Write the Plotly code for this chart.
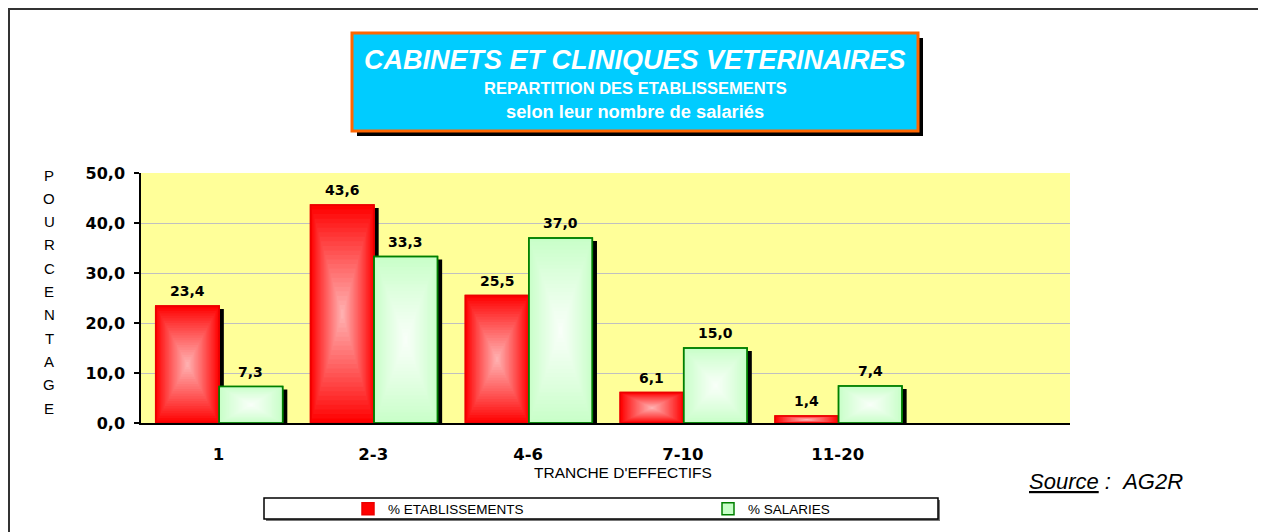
import plotly.graph_objects as go

# ---------------- data ----------------
categories = ["1", "2-3", "4-6", "7-10", "11-20"]
etablissements = [23.4, 43.6, 25.5, 6.1, 1.4]
salaries = [7.3, 33.3, 37.0, 15.0, 7.4]
series_names = ["% ETABLISSEMENTS", "% SALARIES"]
y_ticks = [0, 10, 20, 30, 40, 50]
n_slots = 6
title_main = "CABINETS ET CLINIQUES VETERINAIRES"
title_sub1 = "REPARTITION DES ETABLISSEMENTS"
title_sub2 = "selon leur nombre de salariés"
x_title = "TRANCHE D'EFFECTIFS"
y_title = "POURCENTAGE"
source_label = "Source"
source_value = "AG2R"

# ---------------- geometry helpers (reference pixels -> paper) ----------------
OFF = 8                      # page body margin
W, H = 1266 - OFF, 532 - OFF
L, R, T, B = 141, 1070, 173, 423   # plot area in reference page pixels


def px(x):
    return (x - L) / (R - L)


def py(y):
    return (B - y) / (B - T)


def cx(x):
    return (x - OFF) / W


def cy(y):
    return 1 - (y - OFF) / H


def lerp(c1, c2, t):
    return "rgb(%d,%d,%d)" % tuple(round(a + (b - a) * t) for a, b in zip(c1, c2))


def fmt(v):
    return ("%.1f" % v).replace(".", ",")


BW = 0.41
NL = 24
xs = list(range(len(categories)))
series = [
    dict(name=series_names[0], values=etablissements, off=-0.405,
         edge=(255, 0, 0), center=(255, 182, 182), line="rgb(235,0,0)"),
    dict(name=series_names[1], values=salaries, off=0.005,
         edge=(200, 255, 200), center=(250, 255, 250), line="rgb(0,128,0)"),
]

fig = go.Figure()

# shadows
for s in series:
    fig.add_bar(x=xs, y=[max(v - 0.6, 0) for v in s["values"]], base=0,
                offset=s["off"] + 0.03, width=BW,
                marker=dict(color="black", line=dict(width=0)),
                showlegend=False, hoverinfo="skip")

# gradient layers
for s in series:
    vals = s["values"]
    for k in range(NL):
        t = k / NL
        f = 1 - t
        fig.add_bar(
            x=xs, y=[v * f for v in vals], base=[v * t / 2 for v in vals],
            offset=s["off"] + BW * t / 2, width=BW * f,
            marker=dict(color=lerp(s["edge"], s["center"], t ** 0.9),
                        line=dict(width=1.5 if k == 0 else 0, color=s["line"])),
            name=s["name"], showlegend=(k == 0), legendgroup=s["name"],
            hoverinfo="skip")
    # outline
    fig.add_bar(x=xs, y=vals, base=0, offset=s["off"], width=BW,
                marker=dict(color="rgba(0,0,0,0)", line=dict(width=1.5, color=s["line"])),
                showlegend=False, legendgroup=s["name"], hoverinfo="skip")

annotations = []
# value labels
for s in series:
    for i, v in enumerate(s["values"]):
        annotations.append(dict(
            x=i + s["off"] + BW / 2, y=v, xref="x", yref="y", text=fmt(v),
            showarrow=False, yshift=15, xanchor="center", yanchor="middle", borderpad=0,
            font=dict(family="DejaVu Sans", size=14, color="black", weight="bold")))


def note(x, y, text, font, xanchor="center"):
    return dict(x=px(x), y=py(y), xref="paper", yref="paper", text=text,
                showarrow=False, xanchor=xanchor, yanchor="middle", borderpad=0,
                font=font)


tcx = (352 + 918) / 2
annotations += [
    note(tcx, 60, title_main,
         dict(family="Liberation Sans", size=27, color="white", weight="bold", style="italic")),
    note(tcx, 88, title_sub1,
         dict(family="Liberation Sans", size=16.5, color="white", weight="bold")),
    note(tcx, 111, title_sub2,
         dict(family="Liberation Sans", size=18.3, color="white", weight="bold")),
    note(623, 472, x_title, dict(family="Liberation Sans", size=15.5, color="black")),
    note(1028, 481, "<u>%s</u>\u00a0:\u00a0\u00a0%s" % (source_label, source_value),
         dict(family="Liberation Sans", size=22, color="black", style="italic"),
         xanchor="left"),
]
# vertical y title letters
n = len(y_title)
for i, ch in enumerate(y_title):
    yy = 175 + (408 - 175) * i / (n - 1)
    annotations.append(note(49, yy, ch, dict(family="Liberation Sans", size=15, color="black")))


def rect(x0, y0, x1, y1, **kw):
    d = dict(type="rect", xref="paper", yref="paper",
             x0=px(x0), x1=px(x1), y0=py(y0), y1=py(y1))
    d.update(kw)
    return d


shapes = [
    # outer frame
    rect(9, 9, 1261, 545, line=dict(color="#333333", width=2), fillcolor="rgba(0,0,0,0)"),
    # title box shadow + box
    rect(357, 38, 923, 136, line=dict(width=0), fillcolor="black"),
    rect(352, 33, 918, 131, line=dict(color="#FF6600", width=3), fillcolor="#00CCFF"),
    # legend box shadow + box
    rect(266, 500, 940, 521, line=dict(width=0), fillcolor="#777777"),
    rect(264, 498, 938, 519, line=dict(color="black", width=1.5), fillcolor="white"),
]

fig.update_layout(
    width=W, height=H, autosize=False,
    margin=dict(l=L - OFF, r=W - (R - OFF), t=T - OFF, b=H - (B - OFF), pad=0),
    plot_bgcolor="#FFFF99", paper_bgcolor="white",
    barmode="overlay", separators=",.",
    xaxis=dict(range=[-0.5, n_slots - 0.5], tickvals=xs, ticktext=categories,
               ticks="", showline=True, linecolor="black", linewidth=1.5,
               showgrid=False, zeroline=False, ticklabelstandoff=15,
               tickfont=dict(family="DejaVu Sans", size=16.5, color="black", weight="bold")),
    xaxis2=dict(overlaying="x", anchor="y", side="bottom", range=[-0.5, n_slots - 0.5],
                tickvals=[i - 0.5 for i in range(n_slots + 1)],
                ticktext=[""] * (n_slots + 1), ticks="outside", ticklen=6,
                tickcolor="black", tickwidth=1.5, showgrid=False, showline=False,
                zeroline=False),
    yaxis=dict(range=[0, 50], tickvals=y_ticks, tickformat=".1f", ticks="outside",
               ticklen=5, tickcolor="black", tickwidth=1.5, showline=True,
               linecolor="black", linewidth=1.5, gridcolor="#C0C0C0", gridwidth=1,
               zeroline=False, ticklabelstandoff=6,
               tickfont=dict(family="DejaVu Sans", size=16, color="black", weight="bold")),
    legend=dict(orientation="h", xref="container", yref="container",
                x=cx(348), y=cy(509), xanchor="left", yanchor="middle",
                bgcolor="rgba(0,0,0,0)", borderwidth=0,
                entrywidth=315, entrywidthmode="pixels",
                font=dict(family="Liberation Sans", size=13.5, color="black")),
    annotations=annotations,
    shapes=shapes,
)

fig.write_html("out.html")
